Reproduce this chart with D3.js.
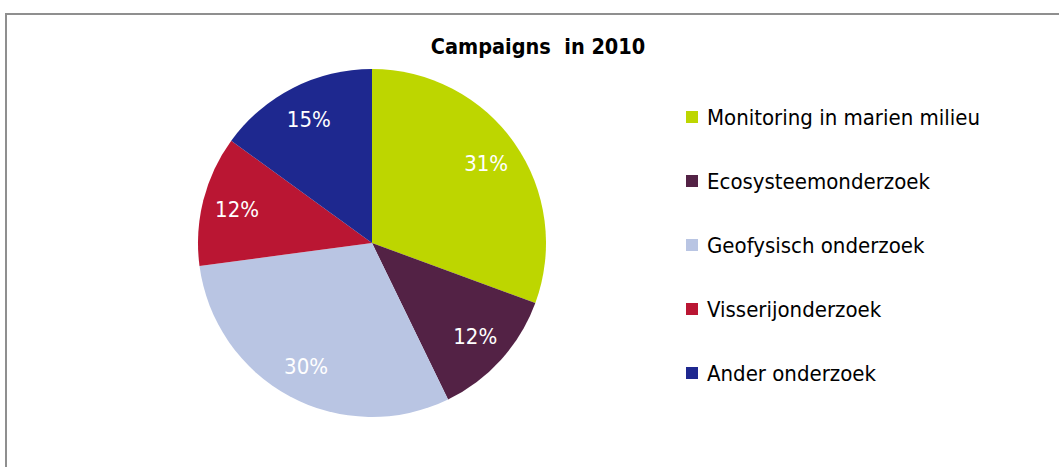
<!DOCTYPE html>
<html><head><meta charset="utf-8">
<script src="https://cdn.jsdelivr.net/npm/d3@7"></script>
<style>
body{margin:0;background:#fff;}
svg{display:block;}
text{font-family:"DejaVu Sans Condensed","DejaVu Sans",sans-serif;}
</style></head>
<body>
<svg id="c" width="1059" height="467"></svg>
<script>
const title = "Campaigns  in 2010";
const categories = ["Monitoring in marien milieu","Ecosysteemonderzoek","Geofysisch onderzoek","Visserijonderzoek","Ander onderzoek"];
const values = [30.6, 12.2, 30.1, 12.1, 15.0];
const colors = ["#BDD600","#532245","#B9C5E3","#BA1633","#1E288F"];

const svg = d3.select("#c");
svg.append("rect").attr("x",6).attr("y",14).attr("width",1100).attr("height",500)
  .attr("fill","#fff").attr("stroke","#8f8f8f").attr("stroke-width",2);

svg.append("text").attr("x",538).attr("y",54).attr("text-anchor","middle")
  .attr("font-weight","bold").attr("font-size",21.5).attr("fill","#000")
  .style("white-space","pre").text(title);

const cx = 372, cy = 243, R = 174;
const total = d3.sum(values);
const pie = d3.pie().sort(null).value(d=>d)(values);
const arc = d3.arc().innerRadius(0).outerRadius(R);
const g = svg.append("g").attr("transform",`translate(${cx},${cy})`);
g.selectAll("path").data(pie).join("path").attr("d",arc).attr("fill",(d,i)=>colors[i]);
const lab = d3.arc().innerRadius(R*0.8).outerRadius(R*0.8);
const fmt = d3.format(".0%");
g.selectAll("text").data(pie).join("text")
  .attr("transform",d=>`translate(${lab.centroid(d)})`)
  .attr("text-anchor","middle").attr("dy","0.36em")
  .attr("font-size",22).attr("fill","#fff")
  .text(d=>fmt(d.value/total));

const y = d3.scalePoint().domain(categories).range([117,373]);
const lg = svg.append("g").selectAll("g").data(categories).join("g")
  .attr("transform",d=>`translate(686,${y(d)})`);
lg.append("rect").attr("x",0).attr("y",-6).attr("width",12).attr("height",12).attr("fill",(d,i)=>colors[i]);
lg.append("text").attr("x",21).attr("dy","0.36em").attr("font-size",22).attr("fill","#000").text(d=>d);
</script>
</body></html>
